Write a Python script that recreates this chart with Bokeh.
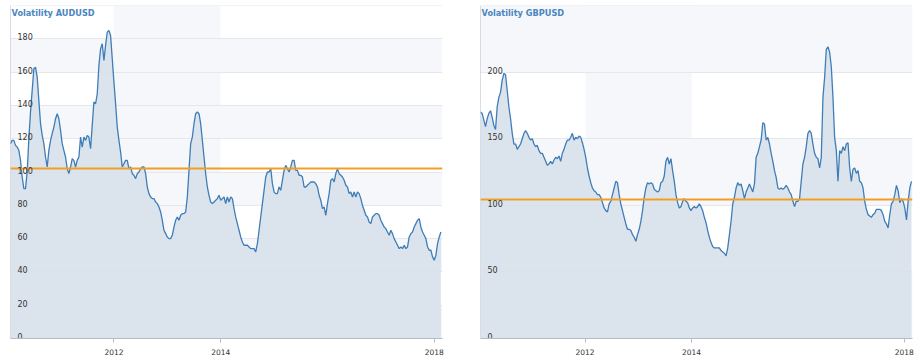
import pandas as pd
from bokeh.plotting import figure
from bokeh.layouts import row
from bokeh.models import FixedTicker, DatetimeTickFormatter, Range1d
from bokeh.core.properties import value
from bokeh.embed import file_html
from bokeh.resources import INLINE

# ---------------- data ----------------
aud_title = "Volatility AUDUSD"
aud_start, aud_end = "2010-01-23", "2018-02-15"
aud_values = [
    117, 119, 119, 116, 115, 113, 107, 97, 90, 90,
    100, 120, 136, 149, 162, 163, 157, 143, 129, 122,
    117, 109, 103, 113, 119, 123, 127, 132, 135, 132,
    125, 117, 113, 109, 102, 99, 103, 108, 107, 103,
    107, 109, 121, 115, 121, 119, 122, 121, 114, 128,
    142, 141, 147, 164, 174, 177, 167, 176, 184, 185,
    182, 168, 154, 141, 127, 119, 112, 103, 105, 107,
    107, 102, 103, 99, 98, 96, 99, 100, 102, 103,
    103, 99, 91, 87, 85, 84, 84, 82, 81, 79,
    76, 71, 65, 63, 61, 60, 60, 62, 67, 71,
    73, 71, 74, 75, 75, 76, 85, 101, 117, 121,
    129, 135, 136, 135, 129, 119, 109, 99, 91, 86,
    82, 81, 82, 83, 84, 86, 83, 84, 85, 81,
    85, 82, 85, 84, 78, 73, 69, 65, 61, 58,
    56, 56, 56, 55, 54, 54, 54, 52, 57, 65,
    73, 81, 89, 97, 100, 100, 102, 93, 88, 87,
    87, 91, 89, 95, 101, 104, 102, 100, 103, 107,
    107, 101, 101, 98, 98, 97, 91, 91, 92, 93,
    94, 94, 94, 93, 91, 86, 83, 78, 79, 74,
    81, 87, 95, 96, 94, 99, 102, 99, 98, 97,
    95, 92, 91, 87, 88, 85, 88, 85, 88, 87,
    84, 80, 77, 74, 73, 70, 69, 73, 74, 75,
    75, 74, 71, 69, 67, 66, 64, 62, 65, 63,
    60, 58, 56, 54, 55, 54, 56, 54, 55, 61,
    63, 64, 67, 69, 71, 72, 67, 64, 62, 60,
    55, 53, 53, 49, 47, 50, 57, 61, 64,
]
aud_mean = 102.3
aud_yticks = [0, 20, 40, 60, 80, 100, 120, 140, 160, 180, 200]
aud_xrange = ("2010-01-23", "2018-02-26")

gbp_title = "Volatility GBPUSD"
gbp_start, gbp_end = "2010-01-13", "2018-02-20"
gbp_values = [
    170, 169, 164, 159, 165, 169, 171, 166, 160, 157,
    174, 181, 185, 194, 199, 198, 186, 174, 165, 154,
    146, 146, 142, 144, 146, 150, 154, 156, 154, 151,
    149, 150, 146, 144, 145, 141, 139, 139, 136, 133,
    130, 131, 133, 131, 134, 136, 135, 137, 133, 139,
    142, 146, 149, 149, 151, 154, 149, 151, 150, 152,
    151, 147, 142, 136, 128, 122, 117, 113, 111, 110,
    108, 108, 106, 102, 98, 96, 95, 101, 103, 108,
    113, 118, 117, 108, 101, 96, 91, 86, 82, 82,
    81, 78, 76, 73, 78, 82, 88, 96, 106, 113,
    117, 116, 117, 116, 112, 111, 110, 111, 117, 118,
    122, 133, 136, 131, 135, 126, 118, 108, 102, 98,
    99, 103, 105, 103, 102, 98, 96, 98, 99, 98,
    99, 101, 99, 96, 91, 87, 81, 76, 72, 69,
    68, 68, 68, 68, 66, 65, 64, 62, 68, 78,
    88, 101, 106, 113, 117, 115, 116, 111, 105, 110,
    113, 116, 113, 110, 116, 136, 139, 144, 149, 162,
    161, 149, 151, 146, 139, 133, 126, 121, 113, 112,
    113, 112, 113, 115, 113, 110, 108, 103, 99, 103,
    103, 105, 118, 131, 136, 144, 154, 156, 154, 146,
    139, 136, 135, 128, 136, 181, 196, 217, 219, 215,
    204, 181, 151, 141, 118, 141, 139, 144, 141, 146,
    147, 128, 118, 127, 128, 124, 126, 118, 117, 113,
    103, 97, 93, 92, 91, 93, 94, 97, 97, 97,
    96, 93, 88, 86, 83, 93, 101, 103, 108, 115,
    111, 102, 105, 103, 98, 89, 103, 113, 118,
]
gbp_mean = 104.3
gbp_yticks = [0, 50, 100, 150, 200, 250]
gbp_xrange = ("2010-01-13", "2018-02-27")

x_tick_years = [2012, 2014, 2018]
shaded_years = ("2012-01-01", "2014-01-01")

# ---------------- styling ----------------
FONT = "DejaVu Sans"
BAND = "#f5f7fa"
GRID = "#e4e7eb"
AXIS = "#b4bcc4"
LINE = "#3f7db6"
AREA = "#d8e2eb"
ORANGE = "#f29d25"
TITLE_C = "#4a86bf"


def make_chart(title, start, end, vals, mean, yticks, xr, border_left, border_right):
    t = pd.date_range(start, end, periods=len(vals))
    x_lo, x_hi = pd.Timestamp(xr[0]), pd.Timestamp(xr[1])
    p = figure(x_axis_type="datetime", frame_width=432, frame_height=333,
               x_range=Range1d(x_lo, x_hi), y_range=Range1d(yticks[0], yticks[-1]),
               output_backend="svg", toolbar_location=None,
               min_border_left=border_left, min_border_right=border_right,
               min_border_top=5, min_border_bottom=0)
    p.yaxis.visible = False
    p.grid.visible = False
    p.outline_line_color = None
    p.background_fill_color = "white"
    p.border_fill_color = "white"

    ax = p.xaxis[0]
    ax.ticker = FixedTicker(ticks=[pd.Timestamp(f"{y}-01-01").timestamp() * 1000 for y in x_tick_years])
    ax.formatter = DatetimeTickFormatter(years="%Y", months="%Y", days="%Y", hours="%Y",
                                         minutes="%Y", seconds="%Y", milliseconds="%Y",
                                         microseconds="%Y")
    ax.axis_line_color = AXIS
    ax.major_tick_line_color = AXIS
    ax.major_tick_out = 4
    ax.major_tick_in = 0
    ax.minor_tick_line_color = None
    ax.major_label_text_font = FONT
    ax.major_label_text_font_size = "7.5px"
    ax.major_label_text_color = "#333333"
    ax.major_label_standoff = 6

    lo = yticks[0:-1:2]
    hi = yticks[1::2]
    p.hstrip(y0=lo, y1=hi, fill_color=BAND, line_color=None)
    p.vstrip(x0=[pd.Timestamp(shaded_years[0])], x1=[pd.Timestamp(shaded_years[1])],
             fill_color=BAND, line_color=None)
    p.hspan(y=yticks, line_color=GRID, line_width=1)
    p.vspan(x=[x_lo], line_color=AXIS, line_width=1)

    p.varea(x=t, y1=0, y2=vals, fill_color=AREA, fill_alpha=0.92)
    p.line(t, vals, line_color=LINE, line_width=1.3)
    p.hspan(y=[mean], line_color=ORANGE, line_width=2)

    labels = yticks[:-1]
    p.text(x=[x_lo] * len(labels), y=labels, text=[str(v) for v in labels],
           x_offset=7, y_offset=-2, text_baseline="alphabetic", text_align="left",
           text_font=value(FONT), text_font_size=value("8px"), text_color="#333333")
    p.text(x=[x_lo], y=[yticks[-1]], text=[title], x_offset=1, y_offset=7,
           text_baseline="middle", text_align="left", text_font=value(FONT),
           text_font_size=value("8.2px"), text_font_style="bold", text_color=TITLE_C)
    return p


p1 = make_chart(aud_title, aud_start, aud_end, aud_values, aud_mean, aud_yticks, aud_xrange, 10, 36)
p2 = make_chart(gbp_title, gbp_start, gbp_end, gbp_values, gbp_mean, gbp_yticks, gbp_xrange, 2, 4)

layout = row(p1, p2)

open("out.html", "w").write(file_html(layout, INLINE))
